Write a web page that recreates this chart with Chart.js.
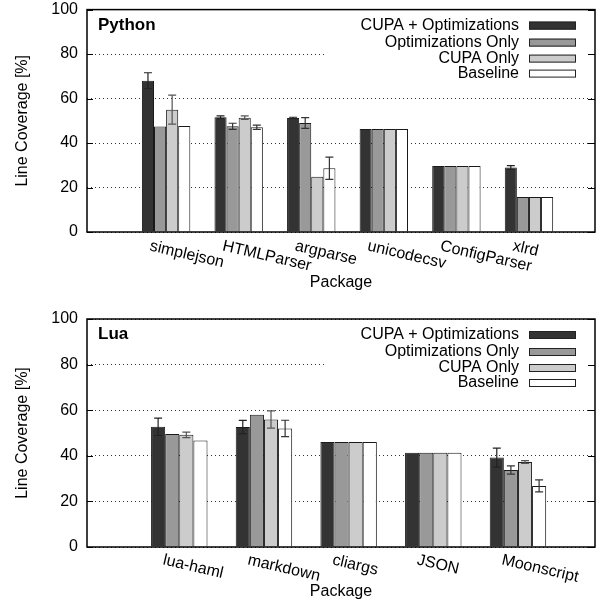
<!DOCTYPE html>
<html>
<head>
<meta charset="utf-8">
<script src="https://cdn.jsdelivr.net/npm/chart.js@4.4.1/dist/chart.umd.min.js"></script>
<style>
body { margin: 0; background: #fff; }
canvas { display: block; }
</style>
</head>
<body>
<canvas id="pythonChart" width="603" height="300"></canvas>
<canvas id="luaChart" width="603" height="307"></canvas>
<script>
// series shared by both panels
var seriesNames = ['CUPA + Optimizations', 'Optimizations Only', 'CUPA Only', 'Baseline'];

// Python panel
var pyPackages = ['simplejson', 'HTMLParser', 'argparse', 'unicodecsv', 'ConfigParser', 'xlrd'];
var pyCupaOpt = [68.0, 51.6, 51.3, 46.3, 29.7, 29.0];
var pyOptOnly = [47.4, 47.5, 49.0, 46.3, 29.7, 15.7];
var pyCupaOnly = [55.0, 51.4, 24.8, 46.3, 29.7, 15.7];
var pyBaseline = [47.7, 47.1, 28.7, 46.3, 29.7, 15.7];
var pyCupaOptErr = [3.6, 0.6, 0.3, 0, 0, 0.8];
var pyOptOnlyErr = [0, 1.4, 2.4, 0, 0, 0];
var pyCupaOnlyErr = [6.5, 0.8, 0, 0, 0, 0];
var pyBaselineErr = [0, 1.0, 5.0, 0, 0, 0];

// Lua panel
var luaPackages = ['lua-haml', 'markdown', 'cliargs', 'JSON', 'Moonscript'];
var luaCupaOpt = [52.7, 52.6, 46.0, 41.3, 39.2];
var luaOptOnly = [49.6, 58.0, 46.0, 41.3, 33.8];
var luaCupaOnly = [49.2, 55.9, 46.0, 41.3, 37.3];
var luaBaseline = [46.7, 52.0, 46.0, 41.3, 26.8];
var luaCupaOptErr = [3.8, 2.9, 0, 0, 4.2];
var luaOptOnlyErr = [0, 0, 0, 0, 1.8];
var luaCupaOnlyErr = [1.2, 3.8, 0, 0, 0.6];
var luaBaselineErr = [0, 3.6, 0, 0, 2.6];

var yTicks = [0, 20, 40, 60, 80, 100];

var FONT = '"Liberation Sans", Arial, Helvetica, sans-serif';
var fillColors = ['#333333', '#999999', '#cccccc', '#ffffff'];
var errColors = ['#222222', '#333333', '#555555', '#333333'];

Chart.defaults.font.family = FONT;
Chart.defaults.color = '#000';

// error bars on top of the bars
var errorBarPlugin = {
    id: 'errorBars',
    afterDatasetsDraw: function (chart) {
        var ctx = chart.ctx;
        var yScale = chart.scales.y;
        chart.data.datasets.forEach(function (ds, d) {
            var meta = chart.getDatasetMeta(d);
            meta.data.forEach(function (bar, i) {
                var err = ds.errors[i];
                if (!err) return;
                var v = ds.data[i].y;
                var top = yScale.getPixelForValue(v + err);
                var bot = yScale.getPixelForValue(v - err);
                ctx.save();
                ctx.strokeStyle = errColors[d];
                ctx.lineWidth = 1.2;
                ctx.beginPath();
                ctx.moveTo(bar.x, top); ctx.lineTo(bar.x, bot);
                ctx.moveTo(bar.x - 4, top); ctx.lineTo(bar.x + 4, top);
                ctx.moveTo(bar.x - 4, bot); ctx.lineTo(bar.x + 4, bot);
                ctx.stroke();
                ctx.restore();
            });
        });
    }
};

// frame, inner ticks, key, panel title and slanted package names
var panelPlugin = {
    id: 'panel',
    afterDraw: function (chart, args, opts) {
        var ctx = chart.ctx;
        var a = chart.chartArea;
        var xScale = chart.scales.x;
        var yScale = chart.scales.y;
        ctx.save();

        // key background hides the grid behind it
        ctx.fillStyle = '#fff';
        ctx.fillRect(a.right - 270, a.top + 1, 268, 72);

        // inner tick marks on both sides
        ctx.strokeStyle = '#000';
        ctx.lineWidth = 1;
        ctx.beginPath();
        yTicks.forEach(function (t) {
            var y = Math.round(yScale.getPixelForValue(t)) + 0.5;
            ctx.moveTo(a.left, y); ctx.lineTo(a.left + 6, y);
            ctx.moveTo(a.right - 7, y); ctx.lineTo(a.right, y);
        });
        ctx.stroke();

        // frame
        ctx.lineWidth = 1.5;
        ctx.strokeRect(a.left, a.top, a.right - a.left, a.bottom - a.top);

        // key
        ctx.font = '16px ' + FONT;
        ctx.textAlign = 'right';
        ctx.textBaseline = 'middle';
        var rows = [16, 33, 49, 64];
        seriesNames.forEach(function (name, i) {
            var y = a.top + rows[i];
            ctx.fillStyle = '#000';
            ctx.fillText(name, a.right - 76, y);
            ctx.fillStyle = fillColors[i];
            ctx.fillRect(a.right - 66, y - 4, 47, 8);
            ctx.lineWidth = 1;
            ctx.strokeStyle = '#222';
            ctx.strokeRect(a.right - 65.5, y - 3.5, 46, 7);
        });

        // panel title
        ctx.fillStyle = '#000';
        ctx.textAlign = 'left';
        ctx.textBaseline = 'alphabetic';
        ctx.font = 'bold 17px ' + FONT;
        ctx.fillText(opts.title, a.left + 11, a.top + 20);

        // package names, slanted
        ctx.font = '16px ' + FONT;
        ctx.textBaseline = 'middle';
        opts.labels.forEach(function (lab, i) {
            var x = xScale.getPixelForValue(i);
            ctx.save();
            ctx.translate(x - 16, a.bottom + opts.labelDrop);
            ctx.rotate(13 * Math.PI / 180);
            ctx.fillText(lab, 0, 0);
            ctx.restore();
        });
        ctx.restore();
    }
};

function makeChart(canvasId, title, packages, values, errors, topPad, xHeight, labelDrop, titlePad) {
    var datasets = seriesNames.map(function (name, s) {
        return {
            label: name,
            data: values[s].map(function (v, i) { return { x: i, y: v }; }),
            errors: errors[s],
            backgroundColor: fillColors[s],
            borderColor: '#1a1a1a',
            borderWidth: 1,
            categoryPercentage: 4 / 6,
            barPercentage: 1
        };
    });

    return new Chart(document.getElementById(canvasId), {
        type: 'bar',
        data: { datasets: datasets },
        options: {
            responsive: false,
            animation: false,
            layout: { padding: { left: 0, right: 8, top: topPad, bottom: 0 } },
            plugins: {
                legend: { display: false },
                tooltip: { enabled: false },
                panel: { title: title, labels: packages, labelDrop: labelDrop }
            },
            scales: {
                x: {
                    type: 'linear',
                    offset: false,
                    min: -1.09,
                    max: packages.length - 0.09,
                    afterBuildTicks: function (s) {
                        s.ticks = packages.map(function (p, i) { return { value: i }; });
                    },
                    afterFit: function (s) { s.height = xHeight; },
                    ticks: { display: false },
                    grid: { display: false },
                    border: { display: false },
                    title: {
                        display: true,
                        text: 'Package',
                        font: { size: 16 },
                        color: '#000',
                        padding: { top: 0, bottom: titlePad }
                    }
                },
                y: {
                    min: 0,
                    max: 100,
                    afterFit: function (s) { s.width = 87; },
                    ticks: { stepSize: 20, padding: 0, font: { size: 16 }, color: '#000' },
                    grid: { color: '#333', lineWidth: 1, drawTicks: true, tickLength: 9, tickColor: 'rgba(0,0,0,0)' },
                    border: { display: false, dash: [1, 3] },
                    title: {
                        display: true,
                        text: 'Line Coverage [%]',
                        font: { size: 16 },
                        color: '#000',
                        padding: { top: 13, bottom: 0 }
                    }
                }
            }
        },
        plugins: [errorBarPlugin, panelPlugin]
    });
}

makeChart('pythonChart', 'Python', pyPackages,
    [pyCupaOpt, pyOptOnly, pyCupaOnly, pyBaseline],
    [pyCupaOptErr, pyOptOnlyErr, pyCupaOnlyErr, pyBaselineErr], 9, 68, 14, 8);

makeChart('luaChart', 'Lua', luaPackages,
    [luaCupaOpt, luaOptOnly, luaCupaOnly, luaBaseline],
    [luaCupaOptErr, luaOptOnlyErr, luaCupaOnlyErr, luaBaselineErr], 19, 60, 13, 6);
</script>
</body>
</html>
